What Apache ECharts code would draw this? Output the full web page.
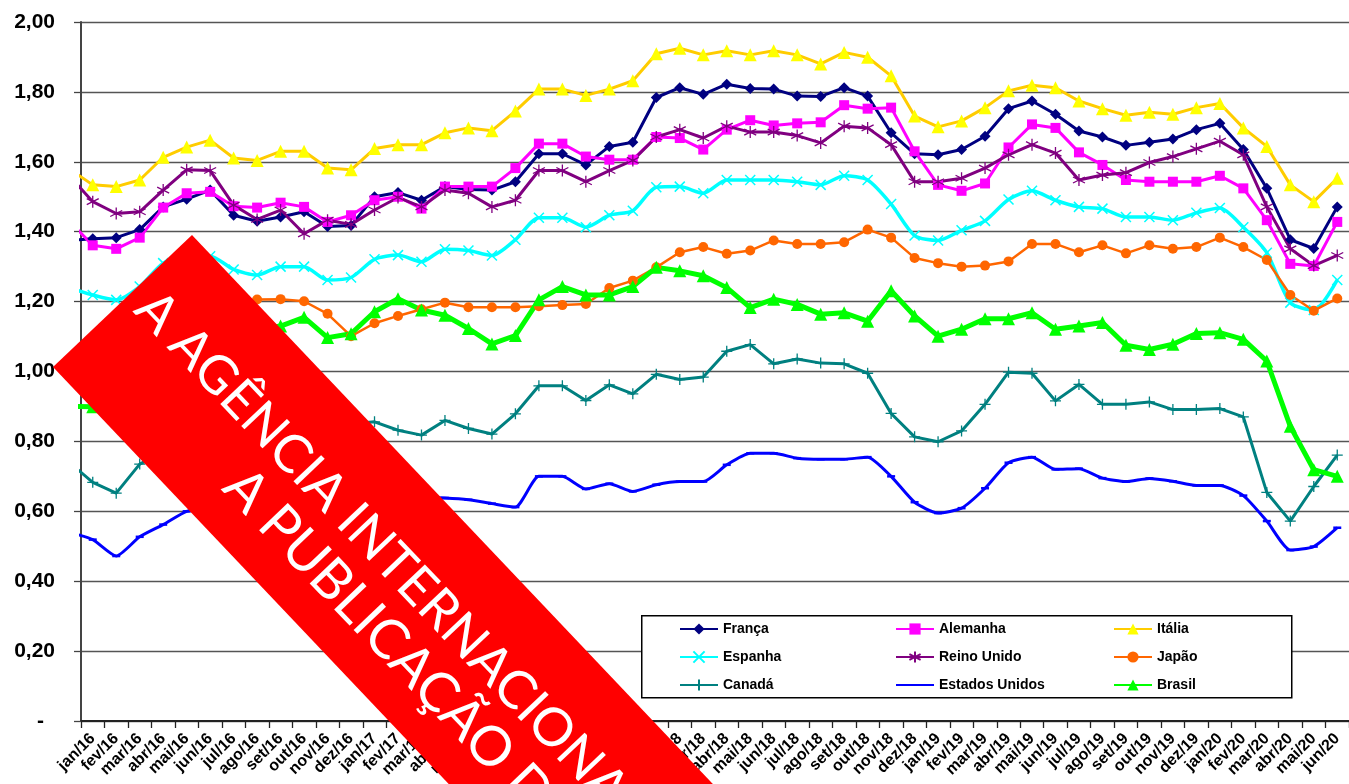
<!DOCTYPE html>
<html>
<head>
<meta charset="utf-8">
<script src="https://cdn.jsdelivr.net/npm/echarts@6/dist/echarts.min.js"></script>
<style>
html,body{margin:0;padding:0;background:#fff;}
#chart{width:1349px;height:784px;}
</style>
</head>
<body>
<div id="chart"></div>
<script>
// first category (dez/15) lies left of the visible axis range; only its connecting segment shows
var categories = ['dez/15',
 'jan/16','fev/16','mar/16','abr/16','mai/16','jun/16','jul/16','ago/16','set/16','out/16','nov/16','dez/16',
 'jan/17','fev/17','mar/17','abr/17','mai/17','jun/17','jul/17','ago/17','set/17','out/17','nov/17','dez/17',
 'jan/18','fev/18','mar/18','abr/18','mai/18','jun/18','jul/18','ago/18','set/18','out/18','nov/18','dez/18',
 'jan/19','fev/19','mar/19','abr/19','mai/19','jun/19','jul/19','ago/19','set/19','out/19','nov/19','dez/19',
 'jan/20','fev/20','mar/20','abr/20','mai/20','jun/20'];

var franca = [1.375,
 1.380,1.383,1.406,1.471,1.493,1.519,1.447,1.430,1.442,1.457,1.415,1.418,
 1.500,1.512,1.490,1.529,1.521,1.519,1.543,1.623,1.623,1.591,1.644,1.656,
 1.784,1.812,1.793,1.822,1.810,1.808,1.788,1.787,1.812,1.788,1.683,1.623,
 1.620,1.635,1.673,1.752,1.774,1.736,1.688,1.671,1.647,1.656,1.665,1.692,
 1.710,1.635,1.524,1.377,1.352,1.471];
var alemanha = [1.43,
 1.361,1.351,1.383,1.469,1.510,1.514,1.473,1.469,1.483,1.471,1.428,1.447,
 1.490,1.500,1.466,1.529,1.529,1.529,1.582,1.652,1.652,1.615,1.606,1.606,
 1.671,1.668,1.635,1.692,1.719,1.704,1.710,1.713,1.762,1.752,1.755,1.630,
 1.534,1.517,1.538,1.641,1.707,1.697,1.627,1.591,1.548,1.543,1.543,1.543,
 1.560,1.524,1.433,1.308,1.302,1.428];
var italia = [1.58,
 1.534,1.529,1.548,1.613,1.642,1.662,1.611,1.604,1.630,1.630,1.582,1.577,
 1.638,1.649,1.649,1.683,1.697,1.689,1.745,1.808,1.808,1.790,1.808,1.832,
 1.909,1.925,1.906,1.918,1.906,1.918,1.906,1.880,1.913,1.899,1.846,1.731,
 1.700,1.717,1.755,1.803,1.819,1.812,1.774,1.752,1.733,1.742,1.736,1.755,
 1.767,1.697,1.644,1.534,1.486,1.553];
var espanha = [1.24,
 1.219,1.205,1.243,1.310,1.330,1.330,1.292,1.276,1.300,1.300,1.262,1.269,
 1.321,1.333,1.314,1.350,1.346,1.332,1.377,1.440,1.440,1.413,1.447,1.460,
 1.527,1.529,1.510,1.548,1.548,1.548,1.543,1.534,1.560,1.548,1.479,1.389,
 1.375,1.404,1.431,1.492,1.517,1.490,1.471,1.466,1.442,1.442,1.433,1.454,
 1.468,1.413,1.340,1.197,1.176,1.262];
var reinoUnido = [1.56,
 1.486,1.452,1.457,1.519,1.577,1.575,1.476,1.435,1.462,1.394,1.433,1.421,
 1.462,1.498,1.471,1.519,1.510,1.471,1.490,1.575,1.575,1.543,1.575,1.604,
 1.671,1.692,1.668,1.702,1.685,1.685,1.675,1.654,1.702,1.697,1.649,1.543,
 1.543,1.553,1.582,1.620,1.649,1.625,1.548,1.562,1.569,1.598,1.615,1.637,
 1.659,1.620,1.471,1.351,1.303,1.332];
var japao = [1.06,
 1.06,1.05,1.08,1.12,1.17,1.19,1.20,1.206,1.207,1.201,1.165,1.101,
 1.138,1.159,1.178,1.197,1.184,1.184,1.184,1.187,1.190,1.193,1.239,1.260,
 1.298,1.341,1.356,1.337,1.346,1.375,1.365,1.365,1.370,1.406,1.383,1.325,
 1.310,1.300,1.303,1.315,1.365,1.365,1.341,1.361,1.338,1.361,1.351,1.356,
 1.383,1.356,1.319,1.219,1.174,1.209];
var canada = [0.74,
 0.683,0.652,0.735,0.77,0.80,0.82,0.84,0.84,0.85,0.86,0.86,0.85,
 0.856,0.832,0.818,0.860,0.837,0.821,0.879,0.959,0.959,0.917,0.962,0.936,
 0.992,0.977,0.984,1.058,1.077,1.022,1.036,1.024,1.022,0.995,0.880,0.813,
 0.799,0.830,0.906,0.998,0.995,0.916,0.963,0.906,0.906,0.913,0.891,0.891,
 0.894,0.870,0.654,0.572,0.671,0.761];
var estadosUnidos = [0.54,
 0.519,0.472,0.527,0.562,0.600,0.61,0.62,0.63,0.63,0.635,0.64,0.64,
 0.64,0.64,0.64,0.638,0.633,0.622,0.612,0.700,0.700,0.664,0.679,0.657,
 0.676,0.685,0.685,0.733,0.766,0.766,0.752,0.749,0.749,0.755,0.700,0.626,
 0.595,0.609,0.666,0.739,0.755,0.720,0.722,0.695,0.685,0.694,0.686,0.674,
 0.674,0.645,0.572,0.489,0.499,0.553];
var brasil = [0.90,
 0.899,0.93,0.97,1.01,1.05,1.09,1.11,1.12,1.130,1.155,1.097,1.108,
 1.171,1.208,1.176,1.161,1.123,1.079,1.103,1.205,1.243,1.219,1.219,1.243,
 1.298,1.288,1.274,1.240,1.183,1.207,1.192,1.164,1.168,1.144,1.231,1.159,
 1.101,1.121,1.151,1.151,1.168,1.121,1.130,1.140,1.075,1.063,1.078,1.109,
 1.111,1.092,1.030,0.843,0.719,0.700];

var yTicks = {min: 0, max: 2, step: 0.2};
var legendRows = [['França', 'Alemanha', 'Itália'], ['Espanha', 'Reino Unido', 'Japão'], ['Canadá', 'Estados Unidos', 'Brasil']];

var SYM_X = 'path://M0,0L10,10M10,0L0,10';
var SYM_STAR = 'path://M5,0L5,10M0.7,2.5L9.3,7.5M0.7,7.5L9.3,2.5';
var SYM_PLUS = 'path://M5,0L5,10M0,5L10,5';

function mk(name, data, color, opts) {
  opts = opts || {};
  return {
    name: name, type: 'line', data: data,
    smooth: opts.smooth || false,
    symbol: opts.symbol, symbolSize: opts.size,
    showAllSymbol: true,
    lineStyle: {color: opts.lineColor || color, width: opts.width || 3},
    itemStyle: {color: color, borderColor: color, borderWidth: opts.bw || 0},
    emphasis: {disabled: true},
    animation: false
  };
}

var series = [
  mk('França', franca, '#000080', {symbol: 'diamond', size: 11}),
  mk('Alemanha', alemanha, '#FF00FF', {symbol: 'rect', size: 10}),
  mk('Itália', italia, '#FFFF00', {symbol: 'triangle', size: 13, lineColor: '#FFCC00'}),
  mk('Espanha', espanha, '#00FFFF', {symbol: SYM_X, size: 10, bw: 1.5, smooth: 0.25, width: 3.5}),
  mk('Reino Unido', reinoUnido, '#800080', {symbol: SYM_STAR, size: 12, bw: 1.3}),
  mk('Japão', japao, '#FF6600', {symbol: 'circle', size: 10, width: 2.5}),
  mk('Canadá', canada, '#008080', {symbol: SYM_PLUS, size: 11, bw: 1.3}),
  mk('Estados Unidos', estadosUnidos, '#0000FF', {symbol: 'rect', size: [8, 2.5], smooth: 0.2}),
  mk('Brasil', brasil, '#00FF00', {symbol: 'triangle', size: 13, width: 5})
];

var colLeft = [679, 895, 1113];
var rowTop = [622, 650, 678];
var legends = [];
legendRows.forEach(function (row, r) {
  row.forEach(function (name, c) {
    var lg = {
      id: 'lg' + r + '_' + c, orient: 'horizontal', left: colLeft[c], top: rowTop[r],
      itemWidth: 38, itemHeight: 14, padding: 0, data: [name], selectedMode: false, z: 6,
      textStyle: {color: '#000', fontSize: 14, fontWeight: 'bold', fontFamily: 'Liberation Sans, Arial, sans-serif'}
    };
    if (name === 'Estados Unidos') { lg.itemStyle = {opacity: 0}; }
    legends.push(lg);
  });
});

var chart = echarts.init(document.getElementById('chart'), null, {renderer: 'canvas'});
var banner = 46.5 * Math.PI / 180;
chart.setOption({
  backgroundColor: '#fff',
  animation: false,
  grid: {left: 81, right: -6, top: 22, bottom: 63, containLabel: false},
  xAxis: {
    type: 'category', data: categories, min: 1, max: categories.length - 1, boundaryGap: true,
    axisLine: {lineStyle: {color: '#222', width: 2}},
    axisTick: {show: true, length: 7, lineStyle: {color: '#222', width: 1.3}},
    axisLabel: {interval: 0, rotate: 45, margin: 15, color: '#000', fontSize: 16, fontWeight: 'bold',
      fontFamily: 'Liberation Sans, Arial, sans-serif'}
  },
  yAxis: {
    type: 'value', min: yTicks.min, max: yTicks.max, interval: yTicks.step,
    axisLine: {show: true, lineStyle: {color: '#444', width: 2}},
    axisTick: {show: true, length: 7, lineStyle: {color: '#444', width: 1.3}},
    splitLine: {lineStyle: {color: '#555', width: 1.4}},
    axisLabel: {
      margin: 26, color: '#000', fontSize: 21, fontWeight: 'bold', fontFamily: 'Liberation Sans, Arial, sans-serif',
      formatter: function (v) { return v === 0 ? '{d|-}' : v.toFixed(2).replace('.', ','); },
      rich: {d: {fontSize: 21, fontWeight: 'bold', color: '#000', padding: [0, 11, 0, 0]}}
    }
  },
  legend: legends,
  graphic: [
    {type: 'rect', left: 641, top: 615, z: 5, shape: {width: 650, height: 82},
     style: {fill: '#fff', stroke: '#000', lineWidth: 1.5}},
    {type: 'group', x: 53, y: 367, rotation: -banner, z: 100, silent: true,
     children: [
       {type: 'rect', shape: {x: 0, y: -191.6, width: 1300, height: 191.6}, style: {fill: '#FF0000'}, z: 100},
       {type: 'text', x: 14, y: -113, z: 101, style: {text: 'A AGÊNCIA INTERNACIONAL DE ENERGIA', fill: '#fff',
         font: '53px Lato, "Open Sans", sans-serif', verticalAlign: 'middle', align: 'left'}},
       {type: 'text', x: 204, y: -55, z: 101, style: {text: 'A PUBLICAÇÃO DESTES DADOS', fill: '#fff',
         font: '55px Lato, "Open Sans", sans-serif', verticalAlign: 'middle', align: 'left'}}
     ]}
  ],
  series: series
});
</script>
</body>
</html>
